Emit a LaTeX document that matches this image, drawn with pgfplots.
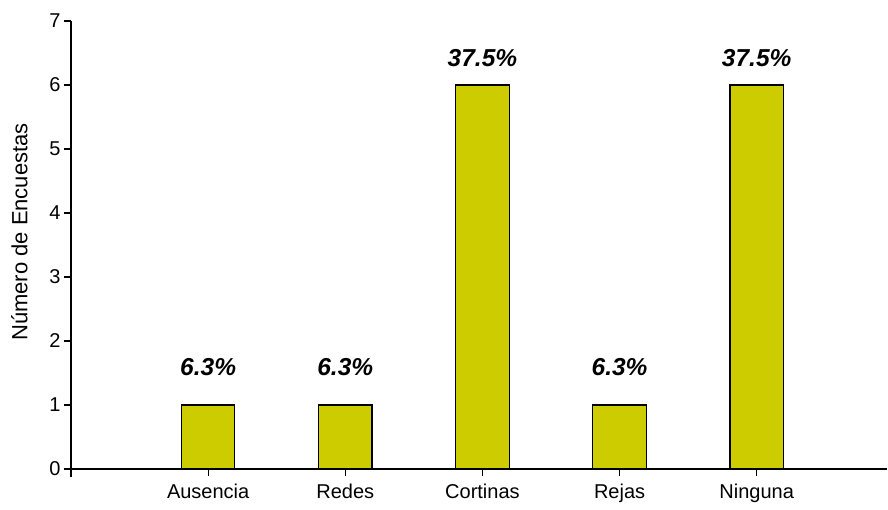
\documentclass[border=0pt]{standalone}
\usepackage{pgfplots}
\pgfplotsset{compat=1.18}
\usepackage{fontspec}
\setmainfont{Liberation Sans}
\definecolor{barfill}{RGB}{204,204,0}
\begin{document}
\begin{tikzpicture}
\begin{axis}[
  scale only axis,
  width=816pt, height=456pt,
  xmin=0, xmax=5.95,
  ymin=-0.125, ymax=7,
  axis x line=middle, axis y line=left,
  axis line style={-, line width=1.2pt},
  tick align=outside,
  major tick length=7pt,
  tick style={line width=1.2pt, black},
  xtick={1,2,3,4,5},
  xticklabels={Ausencia,Redes,Cortinas,Rejas,Ninguna},
  ytick={0,1,...,7},
  x tick label style={yshift=-4pt},
  ticklabel style={font=\fontsize{20}{22}\selectfont},
  /pgf/number format/assume math mode=true,
  ylabel={Número de Encuestas},
  every axis y label/.style={at={(ticklabel cs:0.5)}, rotate=90, anchor=near ticklabel,
    font=\fontsize{22}{24}\selectfont, xshift=17pt, yshift=15pt},
  clip=false,
]
\addplot[ybar, bar width=0.39, fill=barfill, draw=black, line width=1.2pt]
  coordinates {(1,1) (2,1) (3,6) (4,1) (5,6)};
\addplot[draw=none, mark=none, nodes near coords, point meta=explicit symbolic,
  every node near coord/.style={anchor=center, font=\fontsize{24.5}{26}\selectfont\bfseries\itshape}]
  table[meta=label] {
x y label
1 1.59 6.3\%
2 1.59 6.3\%
3 6.42 37.5\%
4 1.59 6.3\%
5 6.42 37.5\%
};
\coordinate (bl) at (rel axis cs:0,0);
\coordinate (tr) at (rel axis cs:1,1);
\end{axis}
\pgfresetboundingbox
\path ([xshift=-71pt,yshift=-32pt]bl) rectangle ([xshift=1pt,yshift=21pt]tr);
\end{tikzpicture}
\end{document}
